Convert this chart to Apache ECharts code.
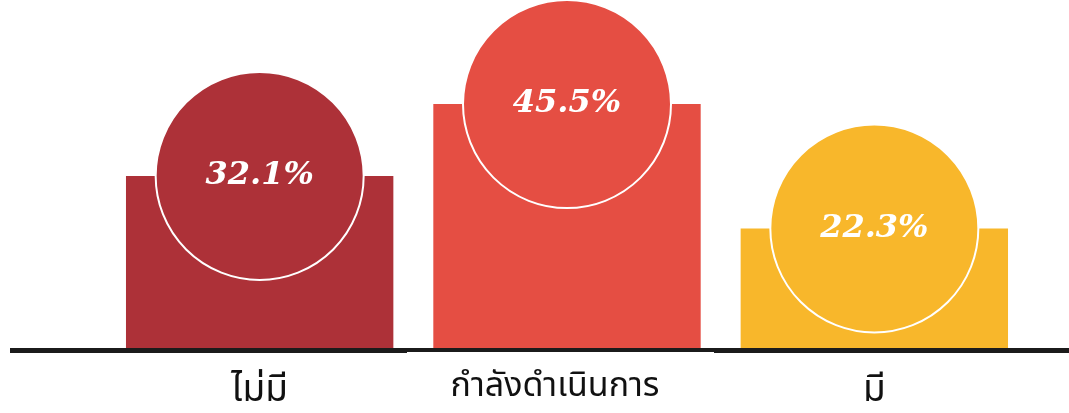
<!DOCTYPE html>
<html>
<head>
<meta charset="utf-8">
<script src="https://cdn.jsdelivr.net/npm/echarts@6/dist/echarts.min.js"></script>
<style>
html,body{margin:0;padding:0;background:#fff;}
#c{width:1069px;height:413px;}
</style>
</head>
<body>
<div id="c"></div>
<script>
const categories = ['ไม่มี', 'กำลังดำเนินการ', 'มี'];
const values = [32.1, 45.5, 22.3];
const colors = ['#AD3138', '#E54E43', '#F8B72B'];

const chart = echarts.init(document.getElementById('c'), null, {renderer: 'canvas'});
const thaiFont = '"Noto Sans Thai", "Noto Sans", sans-serif';
const option = {
  animation: false,
  backgroundColor: '#fff',
  grid: {left: 106, right: 41, top: 80, bottom: 65},
  xAxis: {
    type: 'category',
    data: categories,
    axisLine: {show: false},
    axisTick: {show: false},
    axisLabel: {
      interval: 0,
      hideOverlap: false,
      color: '#111',
      fontSize: 34,
      fontFamily: thaiFont,
      margin: 24,
      formatter: (v, i) => i === 1 ? '{s|' + v + '}' : '{n|' + v + '}',
      rich: {
        n: {fontSize: 37, lineHeight: 37, color: '#111', fontFamily: thaiFont, padding: [7, 0, 0, 0]},
        s: {fontSize: 34, lineHeight: 34, color: '#111', fontFamily: thaiFont, padding: [0, 24, 0, 0]}
      }
    }
  },
  yAxis: {
    type: 'value',
    min: 0,
    max: 50,
    show: false
  },
  series: [
    {
      type: 'bar',
      barCategoryGap: '13%',
      data: values.map((v, i) => ({value: v, itemStyle: {color: colors[i]}})),
      z: 1
    },
    {
      type: 'scatter',
      symbol: 'circle',
      symbolSize: 208,
      data: values.map((v, i) => ({value: v, itemStyle: {color: colors[i], opacity: 1}})),
      itemStyle: {borderColor: '#fff', borderWidth: 2, opacity: 1},
      emphasis: {disabled: true},
      label: {
        show: true,
        position: 'inside',
        color: '#fff',
        fontFamily: 'DejaVu Serif',
        fontWeight: 'bold',
        fontStyle: 'italic',
        fontSize: 32,
        formatter: p => values[p.dataIndex].toFixed(1) + '%'
      },
      z: 3
    }
  ]
};
chart.setOption(option);

function drawBase() {
  const y0 = chart.convertToPixel({gridIndex: 0}, [0, 0])[1];
  chart.setOption({
    graphic: [
      {type: 'rect', shape: {x: 10, y: y0, width: 1059, height: 5}, style: {fill: '#1b1b1b'}, z: 10},
      {type: 'rect', shape: {x: 407, y: y0 + 4, width: 307, height: 2}, style: {fill: '#fff'}, z: 11}
    ]
  });
}
drawBase();
</script>
</body>
</html>
